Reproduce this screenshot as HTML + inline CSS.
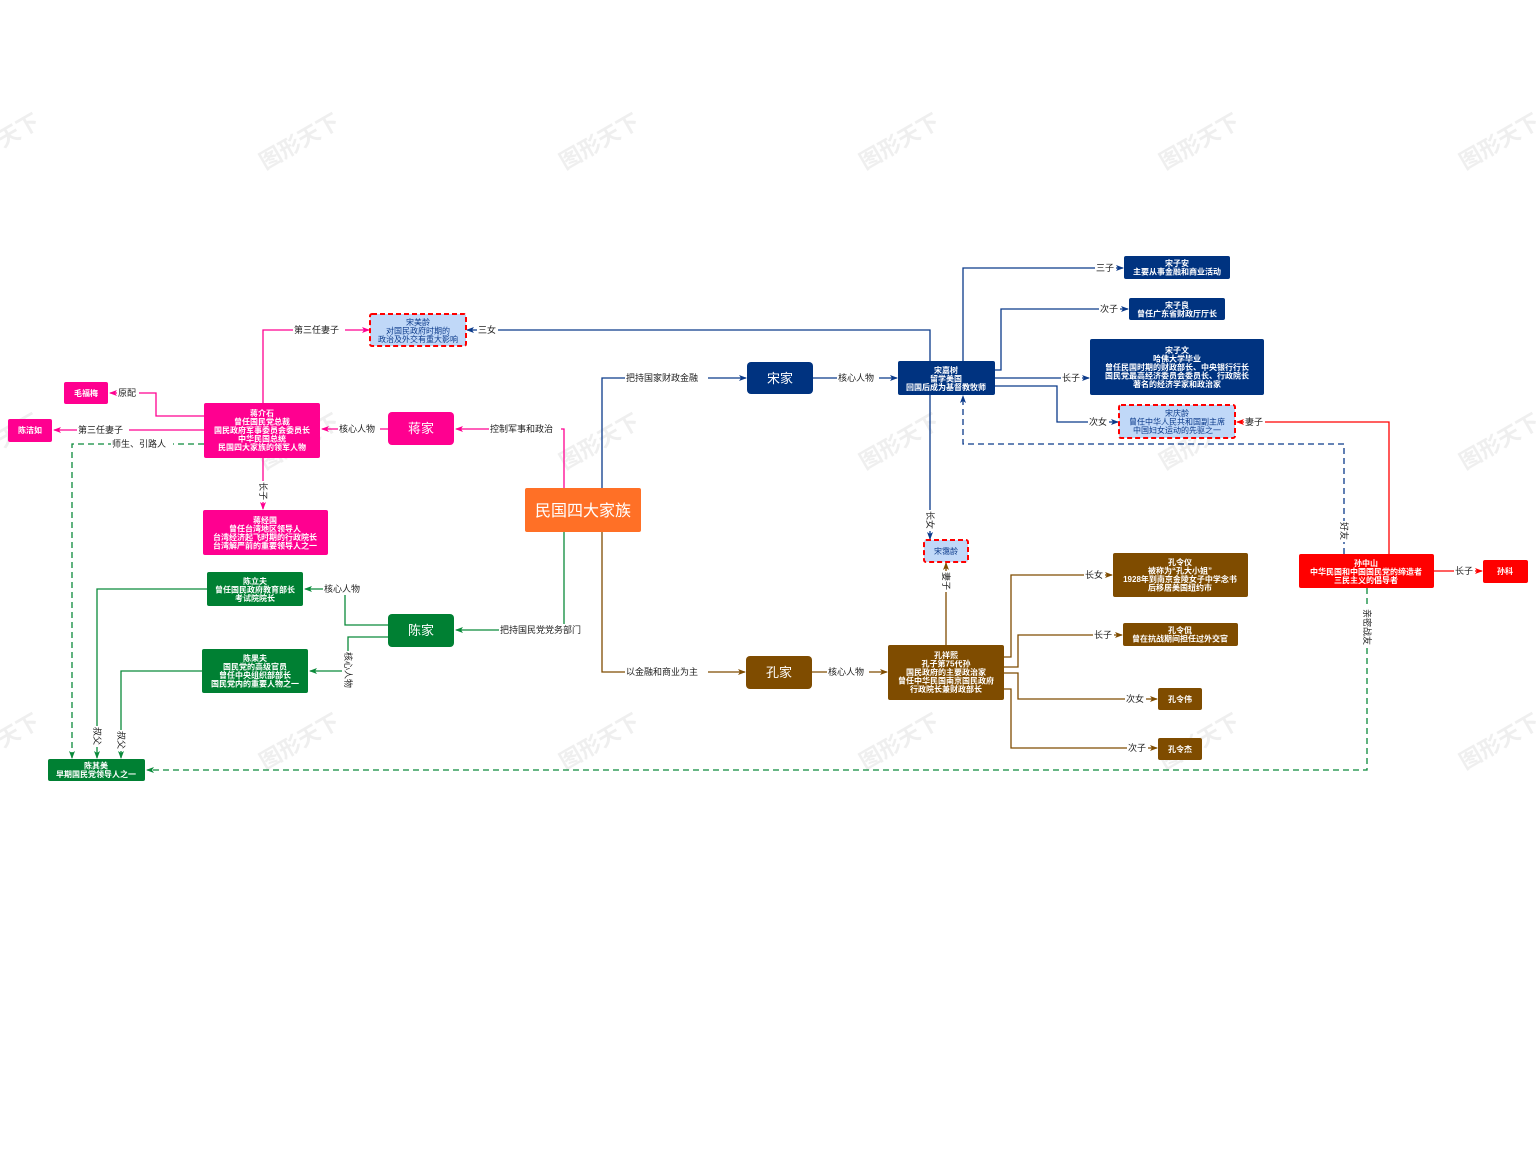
<!DOCTYPE html>
<html><head><meta charset="utf-8">
<style>
html,body{margin:0;padding:0;background:#fff;}
svg{display:block;}
text{font-family:"Liberation Sans","Noto Sans CJK SC",sans-serif;}
.n{fill:#fff;font-size:8px;text-anchor:middle;font-weight:bold;}
.nb{fill:#0b3a8a;font-size:8px;text-anchor:middle;}
.l{font-size:9px;fill:#222;}
.wm{font-size:22px;fill:#efefef;font-weight:bold;}
</style></head><body>
<svg width="1536" height="1153" viewBox="0 0 1536 1153" xmlns="http://www.w3.org/2000/svg">
<defs>
<marker id="ap" markerWidth="8" markerHeight="6" refX="7" refY="3" orient="auto" markerUnits="userSpaceOnUse"><path d="M0,0 L8,3 L0,6 L2,3z" fill="#ff0090"/></marker>
<marker id="ab" markerWidth="8" markerHeight="6" refX="7" refY="3" orient="auto" markerUnits="userSpaceOnUse"><path d="M0,0 L8,3 L0,6 L2,3z" fill="#0b3a8a"/></marker>
<marker id="ag" markerWidth="8" markerHeight="6" refX="7" refY="3" orient="auto" markerUnits="userSpaceOnUse"><path d="M0,0 L8,3 L0,6 L2,3z" fill="#0a8a3a"/></marker>
<marker id="an" markerWidth="8" markerHeight="6" refX="7" refY="3" orient="auto" markerUnits="userSpaceOnUse"><path d="M0,0 L8,3 L0,6 L2,3z" fill="#7f4c00"/></marker>
<marker id="ar" markerWidth="8" markerHeight="6" refX="7" refY="3" orient="auto" markerUnits="userSpaceOnUse"><path d="M0,0 L8,3 L0,6 L2,3z" fill="#ff0000"/></marker>
</defs>

<!-- watermarks -->
<g class="wm">
<text transform="translate(265,170) rotate(-30)">图形天下</text>
<text transform="translate(565,170) rotate(-30)">图形天下</text>
<text transform="translate(865,170) rotate(-30)">图形天下</text>
<text transform="translate(1165,170) rotate(-30)">图形天下</text>
<text transform="translate(1465,170) rotate(-30)">图形天下</text>
<text transform="translate(-35,170) rotate(-30)">图形天下</text>
<text transform="translate(565,470) rotate(-30)">图形天下</text>
<text transform="translate(865,470) rotate(-30)">图形天下</text>
<text transform="translate(1165,470) rotate(-30)">图形天下</text>
<text transform="translate(1465,470) rotate(-30)">图形天下</text>
<text transform="translate(265,470) rotate(-30)">图形天下</text>
<text transform="translate(-35,470) rotate(-30)">图形天下</text>
<text transform="translate(265,770) rotate(-30)">图形天下</text>
<text transform="translate(565,770) rotate(-30)">图形天下</text>
<text transform="translate(865,770) rotate(-30)">图形天下</text>
<text transform="translate(1165,770) rotate(-30)">图形天下</text>
<text transform="translate(1465,770) rotate(-30)">图形天下</text>
<text transform="translate(-35,770) rotate(-30)">图形天下</text>
</g>

<g fill="none" stroke-width="1.3">
<!-- center edges -->
<path d="M564,488 V429 H456" stroke="#ff0090" marker-end="url(#ap)"/>
<path d="M602,488 V378 H746" stroke="#0b3a8a" marker-end="url(#ab)"/>
<path d="M564,532 V630 H456" stroke="#0a8a3a" marker-end="url(#ag)"/>
<path d="M602,532 V672 H745" stroke="#7f4c00" marker-end="url(#an)"/>
<!-- jiang -->
<path d="M388,429 H322" stroke="#ff0090" marker-end="url(#ap)"/>
<path d="M263,403 V330 H369" stroke="#ff0090" marker-end="url(#ap)"/>
<path d="M204,416 H156 V393 H110" stroke="#ff0090" marker-end="url(#ap)"/>
<path d="M204,430 H54" stroke="#ff0090" marker-end="url(#ap)"/>
<path d="M263,458 V509" stroke="#ff0090" marker-end="url(#ap)"/>
<path d="M204,444 H72 V758" stroke="#0a8a3a" stroke-dasharray="6,4" marker-end="url(#ag)"/>
<!-- song -->
<path d="M813,378 H897" stroke="#0b3a8a" marker-end="url(#ab)"/>
<path d="M930,361 V330 H467" stroke="#0b3a8a" marker-end="url(#ab)"/>
<path d="M930,395 V539" stroke="#0b3a8a" marker-end="url(#ab)"/>
<path d="M963,361 V268 H1123" stroke="#0b3a8a" marker-end="url(#ab)"/>
<path d="M995,370 H1001 V309 H1128" stroke="#0b3a8a" marker-end="url(#ab)"/>
<path d="M995,378 H1089" stroke="#0b3a8a" marker-end="url(#ab)"/>
<path d="M995,386 H1057 V422 H1118" stroke="#0b3a8a" marker-end="url(#ab)"/>
<!-- sun -->
<path d="M1389,554 V422 H1237" stroke="#ff0000" marker-end="url(#ar)"/>
<path d="M1344,554 V444 H963 V396" stroke="#0b3a8a" stroke-dasharray="6,4" marker-end="url(#ab)"/>
<path d="M1434,571 H1482" stroke="#ff0000" marker-end="url(#ar)"/>
<path d="M1367,588 V770 H147" stroke="#0a8a3a" stroke-dasharray="6,4" marker-end="url(#ag)"/>
<!-- kong -->
<path d="M812,672 H887" stroke="#7f4c00" marker-end="url(#an)"/>
<path d="M946,645 V563" stroke="#7f4c00" marker-end="url(#an)"/>
<path d="M1004,657 H1011 V575 H1112" stroke="#7f4c00" marker-end="url(#an)"/>
<path d="M1004,667 H1018 V635 H1122" stroke="#7f4c00" marker-end="url(#an)"/>
<path d="M1004,673 H1018 V699 H1157" stroke="#7f4c00" marker-end="url(#an)"/>
<path d="M1004,689 H1011 V748 H1157" stroke="#7f4c00" marker-end="url(#an)"/>
<!-- chen -->
<path d="M388,625 H345 V589 H305" stroke="#0a8a3a" marker-end="url(#ag)"/>
<path d="M388,637 H348 V671 H310" stroke="#0a8a3a" marker-end="url(#ag)"/>
<path d="M207,589 H97 V758" stroke="#0a8a3a" marker-end="url(#ag)"/>
<path d="M202,671 H121 V758" stroke="#0a8a3a" marker-end="url(#ag)"/>
</g>

<!-- edge labels -->
<g class="l">
<rect x="489" y="423" width="72" height="12" fill="#fff"/><text x="490" y="432">控制军事和政治</text>
<rect x="625" y="372" width="83" height="12" fill="#fff"/><text x="626" y="381">把持国家财政金融</text>
<rect x="499" y="624" width="92" height="12" fill="#fff"/><text x="500" y="633">把持国民党党务部门</text>
<rect x="625" y="666" width="83" height="12" fill="#fff"/><text x="626" y="675">以金融和商业为主</text>
<rect x="338" y="423" width="42" height="12" fill="#fff"/><text x="339" y="432">核心人物</text>
<rect x="293" y="324" width="52" height="12" fill="#fff"/><text x="294" y="333">第三任妻子</text>
<rect x="117" y="387" width="22" height="12" fill="#fff"/><text x="118" y="396">原配</text>
<rect x="77" y="424" width="52" height="12" fill="#fff"/><text x="78" y="433">第三任妻子</text>
<rect x="111" y="438" width="62" height="12" fill="#fff"/><text x="112" y="447">师生、引路人</text>
<rect x="837" y="372" width="42" height="12" fill="#fff"/><text x="838" y="381">核心人物</text>
<rect x="477" y="324" width="21" height="12" fill="#fff"/><text x="478" y="333">三女</text>
<rect x="1095" y="262" width="21" height="12" fill="#fff"/><text x="1096" y="271">三子</text>
<rect x="1099" y="303" width="21" height="12" fill="#fff"/><text x="1100" y="312">次子</text>
<rect x="1061" y="372" width="21" height="12" fill="#fff"/><text x="1062" y="381">长子</text>
<rect x="1088" y="416" width="21" height="12" fill="#fff"/><text x="1089" y="425">次女</text>
<rect x="1244" y="416" width="21" height="12" fill="#fff"/><text x="1245" y="425">妻子</text>
<rect x="1454" y="565" width="21" height="12" fill="#fff"/><text x="1455" y="574">长子</text>
<rect x="827" y="666" width="42" height="12" fill="#fff"/><text x="828" y="675">核心人物</text>
<rect x="1084" y="569" width="21" height="12" fill="#fff"/><text x="1085" y="578">长女</text>
<rect x="1093" y="629" width="21" height="12" fill="#fff"/><text x="1094" y="638">长子</text>
<rect x="1125" y="693" width="21" height="12" fill="#fff"/><text x="1126" y="702">次女</text>
<rect x="1127" y="742" width="21" height="12" fill="#fff"/><text x="1128" y="751">次子</text>
<rect x="323" y="583" width="42" height="12" fill="#fff"/><text x="324" y="592">核心人物</text>
<!-- vertical labels -->
<rect x="257" y="481" width="12" height="21" fill="#fff"/><text transform="translate(260,482) rotate(90)">长子</text>
<rect x="924" y="510" width="12" height="21" fill="#fff"/><text transform="translate(927,511) rotate(90)">长女</text>
<rect x="940" y="571" width="12" height="21" fill="#fff"/><text transform="translate(943,572) rotate(90)">妻子</text>
<rect x="1338" y="521" width="12" height="21" fill="#fff"/><text transform="translate(1341,522) rotate(90)">好友</text>
<rect x="1361" y="608" width="12" height="40" fill="#fff"/><text transform="translate(1364,609) rotate(90)">亲密战友</text>
<rect x="342" y="651" width="12" height="40" fill="#fff"/><text transform="translate(345,652) rotate(90)">核心人物</text>
<rect x="91" y="726" width="12" height="21" fill="#fff"/><text transform="translate(94,727) rotate(90)">叔父</text>
<rect x="115" y="730" width="12" height="21" fill="#fff"/><text transform="translate(118,731) rotate(90)">叔父</text>
</g>

<!-- nodes -->
<rect x="525" y="488" width="116" height="44" rx="2" fill="#ff7026"/>
<text x="583" y="516" fill="#fff" font-size="16" text-anchor="middle">民国四大家族</text>

<rect x="388" y="412" width="66" height="33" rx="4" fill="#ff0090"/><text x="421" y="433" fill="#fff" font-size="13" text-anchor="middle">蒋家</text>
<rect x="747" y="362" width="66" height="32" rx="4" fill="#003380"/><text x="780" y="383" fill="#fff" font-size="13" text-anchor="middle">宋家</text>
<rect x="746" y="656" width="66" height="33" rx="4" fill="#7f4c00"/><text x="779" y="677" fill="#fff" font-size="13" text-anchor="middle">孔家</text>
<rect x="388" y="614" width="66" height="33" rx="4" fill="#008033"/><text x="421" y="635" fill="#fff" font-size="13" text-anchor="middle">陈家</text>

<rect x="204" y="403" width="116" height="55" rx="2" fill="#ff0090"/>
<text class="n"><tspan x="262" y="416">蒋介石</tspan><tspan x="262" y="424.5">曾任国民党总裁</tspan><tspan x="262" y="433">国民政府军事委员会委员长</tspan><tspan x="262" y="441.5">中华民国总统</tspan><tspan x="262" y="450">民国四大家族的领军人物</tspan></text>
<rect x="64" y="382" width="44" height="22" rx="2" fill="#ff0090"/><text class="n" x="86" y="396">毛福梅</text>
<rect x="8" y="419" width="44" height="23" rx="2" fill="#ff0090"/><text class="n" x="30" y="433">陈洁如</text>
<rect x="203" y="510" width="125" height="45" rx="2" fill="#ff0090"/>
<text class="n"><tspan x="265" y="523">蒋经国</tspan><tspan x="265" y="531.5">曾任台湾地区领导人</tspan><tspan x="265" y="540">台湾经济起飞时期的行政院长</tspan><tspan x="265" y="548.5">台湾解严前的重要领导人之一</tspan></text>

<rect x="370" y="314" width="96" height="32" rx="2" fill="#c0d8f8" stroke="#ff0000" stroke-width="2" stroke-dasharray="5,3"/>
<text class="nb"><tspan x="418" y="325">宋美龄</tspan><tspan x="418" y="333.5">对国民政府时期的</tspan><tspan x="418" y="342">政治及外交有重大影响</tspan></text>

<rect x="898" y="361" width="97" height="34" rx="2" fill="#003380"/>
<text class="n"><tspan x="946" y="373">宋嘉树</tspan><tspan x="946" y="381.5">留学美国</tspan><tspan x="946" y="390">回国后成为基督教牧师</tspan></text>
<rect x="1124" y="256" width="106" height="23" rx="2" fill="#003380"/>
<text class="n"><tspan x="1177" y="266">宋子安</tspan><tspan x="1177" y="274.5">主要从事金融和商业活动</tspan></text>
<rect x="1129" y="298" width="96" height="22" rx="2" fill="#003380"/>
<text class="n"><tspan x="1177" y="308">宋子良</tspan><tspan x="1177" y="316.5">曾任广东省财政厅厅长</tspan></text>
<rect x="1090" y="339" width="174" height="56" rx="2" fill="#003380"/>
<text class="n"><tspan x="1177" y="353">宋子文</tspan><tspan x="1177" y="361.5">哈佛大学毕业</tspan><tspan x="1177" y="370">曾任民国时期的财政部长、中央银行行长</tspan><tspan x="1177" y="378.5">国民党最高经济委员会委员长、行政院长</tspan><tspan x="1177" y="387">著名的经济学家和政治家</tspan></text>
<rect x="1119" y="405" width="116" height="33" rx="2" fill="#c0d8f8" stroke="#ff0000" stroke-width="2" stroke-dasharray="5,3"/>
<text class="nb"><tspan x="1177" y="416">宋庆龄</tspan><tspan x="1177" y="424.5">曾任中华人民共和国副主席</tspan><tspan x="1177" y="433">中国妇女运动的先驱之一</tspan></text>
<rect x="924" y="540" width="44" height="22" rx="2" fill="#c0d8f8" stroke="#ff0000" stroke-width="2" stroke-dasharray="5,3"/>
<text class="nb" x="946" y="554">宋霭龄</text>

<rect x="1299" y="554" width="135" height="34" rx="2" fill="#ff0000"/>
<text class="n"><tspan x="1366" y="566">孙中山</tspan><tspan x="1366" y="574.5">中华民国和中国国民党的缔造者</tspan><tspan x="1366" y="583">三民主义的倡导者</tspan></text>
<rect x="1483" y="560" width="45" height="23" rx="2" fill="#ff0000"/><text class="n" x="1505" y="574">孙科</text>

<rect x="888" y="645" width="116" height="55" rx="2" fill="#7f4c00"/>
<text class="n"><tspan x="946" y="658">孔祥熙</tspan><tspan x="946" y="666.5">孔子第75代孙</tspan><tspan x="946" y="675">国民政府的主要政治家</tspan><tspan x="946" y="683.5">曾任中华民国南京国民政府</tspan><tspan x="946" y="692">行政院长兼财政部长</tspan></text>
<rect x="1113" y="553" width="135" height="44" rx="2" fill="#7f4c00"/>
<text class="n"><tspan x="1180" y="565">孔令仪</tspan><tspan x="1180" y="573.5">被称为“孔大小姐”</tspan><tspan x="1180" y="582">1928年到南京金陵女子中学念书</tspan><tspan x="1180" y="590.5">后移居美国纽约市</tspan></text>
<rect x="1123" y="623" width="115" height="23" rx="2" fill="#7f4c00"/>
<text class="n"><tspan x="1180" y="633">孔令侃</tspan><tspan x="1180" y="641.5">曾在抗战期间担任过外交官</tspan></text>
<rect x="1158" y="688" width="44" height="22" rx="2" fill="#7f4c00"/><text class="n" x="1180" y="702">孔令伟</text>
<rect x="1158" y="738" width="44" height="22" rx="2" fill="#7f4c00"/><text class="n" x="1180" y="752">孔令杰</text>

<rect x="207" y="572" width="96" height="34" rx="2" fill="#008033"/>
<text class="n"><tspan x="255" y="584">陈立夫</tspan><tspan x="255" y="592.5">曾任国民政府教育部长</tspan><tspan x="255" y="601">考试院院长</tspan></text>
<rect x="202" y="649" width="106" height="44" rx="2" fill="#008033"/>
<text class="n"><tspan x="255" y="661">陈果夫</tspan><tspan x="255" y="669.5">国民党的高级官员</tspan><tspan x="255" y="678">曾任中央组织部部长</tspan><tspan x="255" y="686.5">国民党内的重要人物之一</tspan></text>
<rect x="48" y="759" width="97" height="22" rx="2" fill="#008033"/>
<text class="n"><tspan x="96" y="768.5">陈其美</tspan><tspan x="96" y="777">早期国民党领导人之一</tspan></text>
</svg>
</body></html>
